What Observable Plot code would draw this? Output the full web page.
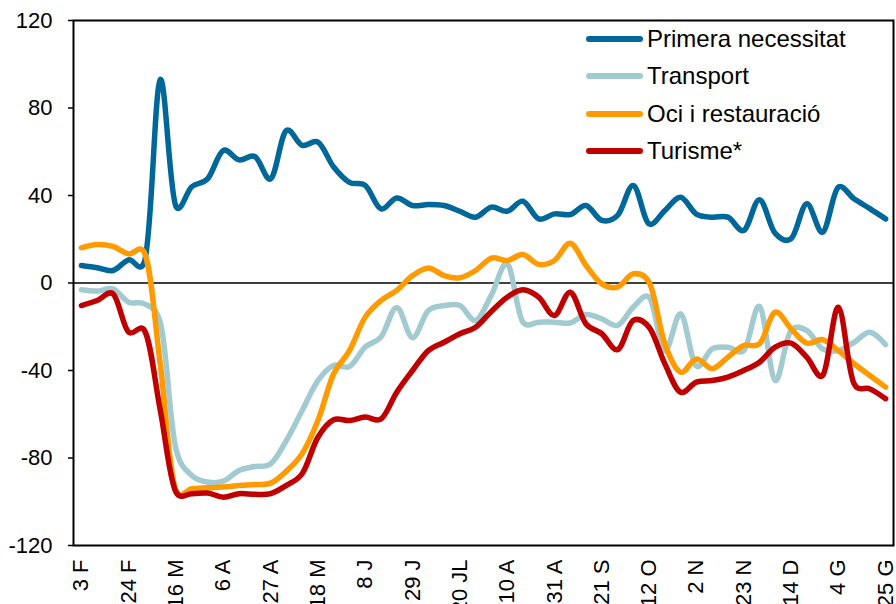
<!DOCTYPE html>
<html>
<head>
<meta charset="utf-8">
<script src="https://cdn.jsdelivr.net/npm/d3@7"></script>
<script src="https://cdn.jsdelivr.net/npm/@observablehq/plot@0.6"></script>
<style>
  html, body { margin: 0; padding: 0; background: #fff; }
  #wrap { position: relative; width: 896px; height: 604px; overflow: hidden; font-family: "Liberation Sans", Arial, sans-serif; }
  #legend { position: absolute; left: 586px; top: 20.3px; }
  .row { display: flex; align-items: center; height: 37.3px; font-size: 24px; color: #000; white-space: nowrap; }
  .sw { width: 57px; height: 6px; border-radius: 3px; margin-right: 4px; }
</style>
</head>
<body>
<div id="wrap"><div id="legend"></div></div>
<script>
// Weekly category labels (every third week shown)
const tickLabels = ["3 F","24 F","16 M","6 A","27 A","18 M","8 J","29 J","20 JL","10 A","31 A","21 S","12 O","2 N","23 N","14 D","4 G","25 G"];
const yTicks = [-120, -80, -40, 0, 40, 80, 120];

const seriesNames = ["Primera necessitat", "Transport", "Oci i restauració", "Turisme*"];
const seriesColors = ["#00679b", "#a2cbd1", "#ff9b00", "#c00000"];

const primeraNecessitat = [8, 7, 5.7, 10.6, 9.8, 93, 35, 44, 47.6, 60.6, 56.3, 57.8, 47.6, 69.7, 62.9, 64.4, 53, 46, 44.6, 33.9, 38.9, 35.4, 35.9, 35.4, 32.8, 30.1, 34.7, 32.8, 37.4, 29.3, 31.6, 31.3, 35.4, 28.6, 30.9, 44.6, 27, 33.1, 39.2, 31.5, 30.1, 30.1, 24, 38.1, 22.7, 20.2, 36.2, 23.2, 43.8, 38.5, 34, 29.3];
const transport = [-3.1, -3.7, -2.7, -8.8, -9.5, -18, -76, -88, -91, -90.6, -85.7, -83.9, -82.7, -72, -58.3, -44.6, -37.7, -38.2, -29.3, -24.7, -11.2, -25, -12.6, -10.3, -10.3, -17.1, -5.5, 8.8, -17.9, -17.9, -17.9, -18.3, -14.4, -16.4, -19.4, -11, -6.5, -31, -14.1, -38, -30.1, -29.4, -30.9, -10.7, -44.6, -21.7, -21.7, -30.1, -30.9, -27.1, -22.5, -28.2];
const ociRestauracio = [16.1, 17.6, 16.7, 13.3, 13.8, -37, -94.9, -94.1, -93.6, -93.3, -92.6, -92.1, -91.5, -86, -78, -62.9, -41.5, -30.9, -15.6, -8, -3.4, 3.4, 6.9, 3.4, 2.4, 5.7, 11.4, 10.3, 13, 8.5, 10.3, 18.2, 8, -0.4, -1.9, 4.2, 0.4, -27.8, -40.8, -34.7, -39.2, -33.9, -28.6, -27.8, -13.3, -20.9, -27.5, -25.9, -30.9, -36.9, -42.3, -47.6];
const turisme = [-10.3, -8, -4.9, -22.5, -21.7, -58, -95.6, -96.3, -96, -97.9, -96.3, -96.6, -96.3, -92.5, -87.2, -70.5, -62.5, -62.9, -61.3, -62.2, -49.9, -40, -30.9, -27.1, -23.2, -20.2, -13, -6.5, -3.1, -6.5, -14.9, -4.2, -18.7, -23.2, -30.5, -17.1, -20.2, -36.9, -49.9, -45.3, -44.6, -43, -40, -36.2, -29.3, -27.5, -33.9, -42.3, -11.1, -46.1, -48.4, -52.9];

const seriesValues = [primeraNecessitat, transport, ociRestauracio, turisme];
const rows = seriesValues.flatMap((vals, s) => vals.map((v, i) => ({ week: i, value: v, series: seriesNames[s] })));
const tickPositions = tickLabels.map((_, k) => k * 3);

const chart = Plot.plot({
  width: 896,
  height: 604,
  marginLeft: 73,
  marginRight: 3,
  marginTop: 20,
  marginBottom: 59,
  style: { fontFamily: "'Liberation Sans', Arial, sans-serif", fontSize: "22px", background: "white", color: "black", overflow: "visible" },
  x: { domain: [-0.5, 51.5], axis: null },
  y: { domain: [-120, 120], axis: null },
  color: { domain: seriesNames, range: seriesColors, legend: false },
  marks: [
    Plot.ruleY([0], { stroke: "black", strokeWidth: 1.5 }),
    ...seriesNames.map(name => Plot.line(rows.filter(d => d.series === name), {
      x: "week", y: "value", stroke: "series", strokeWidth: 5.5,
      curve: "catmull-rom", tension: 0.2, strokeLinecap: "round", strokeLinejoin: "round"
    })),
    Plot.frame({ stroke: "black", strokeWidth: 2 }),
    Plot.axisY({ ticks: yTicks, tickSize: 5, tickPadding: 16, tickFormat: d => String(d), label: null, fontSize: 22, stroke: "black", strokeWidth: 1.5 }),
    Plot.axisX({ ticks: tickPositions, tickFormat: i => tickLabels[i / 3], tickRotate: -90, tickSize: 0, tickPadding: 14, label: null, fontSize: 22 })
  ]
});

const wrap = document.getElementById("wrap");
wrap.insertBefore(chart, wrap.firstChild);

const legend = document.getElementById("legend");
seriesNames.forEach((name, s) => {
  const row = document.createElement("div");
  row.className = "row";
  const sw = document.createElement("div");
  sw.className = "sw";
  sw.style.background = seriesColors[s];
  const tx = document.createElement("span");
  tx.textContent = name;
  row.appendChild(sw);
  row.appendChild(tx);
  legend.appendChild(row);
});
</script>
</body>
</html>
